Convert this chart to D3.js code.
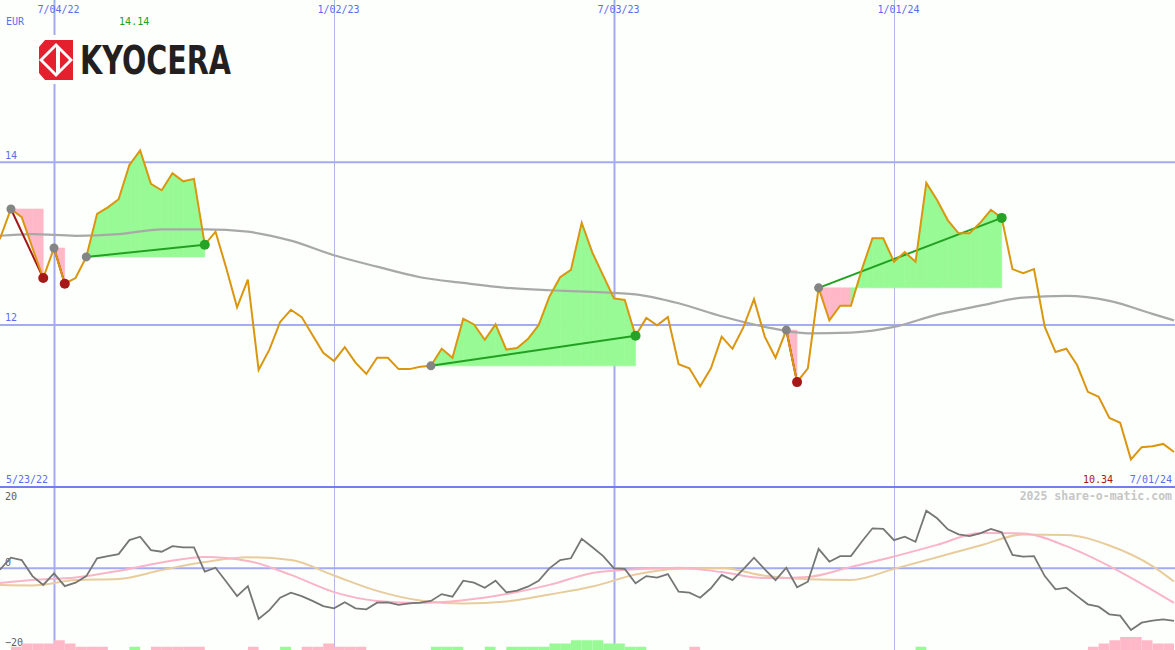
<!DOCTYPE html>
<html><head><meta charset="utf-8">
<script src="https://cdn.jsdelivr.net/npm/d3@7"></script>
<style>body{margin:0;background:#fdfffd}svg{display:block;background:#fdfffd}</style>
</head><body><svg id="c" width="1175" height="650"></svg>
<script>
// ---------- DATA ----------
const startDate = "2022-05-23";           // first weekly close
const endDateLabel = "7/01/24";
const startDateLabel = "5/23/22";
const currency = "EUR";
// weekly closing prices (EUR)
const price = [12.90,13.06,13.42,13.32,12.94,12.57,12.94,12.50,12.57,12.83,
13.36,13.44,13.54,13.96,14.14,13.73,13.65,13.86,13.76,13.79,
12.98,13.14,12.69,12.21,12.55,11.44,11.69,12.03,12.18,12.09,
11.87,11.65,11.55,11.72,11.53,11.39,11.59,11.59,11.45,11.45,
11.48,11.49,11.70,11.59,12.07,12.00,11.81,12.00,11.69,11.71,
11.82,11.99,12.34,12.58,12.67,13.25,12.88,12.60,12.32,12.30,
11.86,12.08,11.99,12.09,11.51,11.46,11.24,11.46,11.85,11.70,
11.96,12.31,11.85,11.59,11.93,11.29,11.46,12.45,12.05,12.23,
12.23,12.67,13.06,13.06,12.77,12.89,12.77,13.74,13.53,13.28,
13.12,13.12,13.25,13.41,13.31,12.68,12.63,12.68,11.97,11.66,
11.70,11.50,11.17,11.11,10.85,10.79,10.34,10.49,10.50,10.53,10.43];
// long moving average (grey), read every 4 weeks
const maWeek = [0,4,8,12,16,20,24,28,32,36,40,44,48,52,56,60,64,68,72,76,80,84,88,92,96,100,104,108,110];
const maValue = [13.08,13.11,13.09,13.11,13.17,13.17,13.14,13.03,12.85,12.71,12.58,12.51,12.45,12.42,12.40,12.37,12.26,12.10,11.97,11.89,11.90,11.97,12.12,12.23,12.33,12.35,12.29,12.13,12.05];
// momentum oscillator (dark grey), weekly
const momentum = [-1.5,-0.4,2.5,1.9,-2.1,-4.3,-1.4,-4.6,-3.75,-2.1,
2.35,2.9,3.4,6.9,7.75,4.4,4.0,5.4,5.1,5.1,
-1.0,0,-3.5,-7.1,-4.6,-12.8,-10.6,-7.5,-6.25,-7.1,
-8.3,-9.6,-10.15,-8.65,-10.15,-10.4,-8.75,-8.65,-9.3,-8.9,
-8.75,-8.3,-6.6,-7.25,-3.25,-3.75,-5.0,-3.25,-6.15,-5.75,
-4.75,-3.3,-0.15,1.9,2.35,7.2,5.1,2.9,-0.15,-0.3,
-3.9,-2.1,-2.5,-1.6,-6.0,-6.25,-7.5,-5.15,-1.8,-3.1,
-0.4,2.5,-0.4,-3.1,0,-4.9,-3.5,4.7,1.5,2.9,
2.9,6.5,9.85,9.7,6.9,7.75,6.5,14.25,12.35,9.6,
8.35,7.9,8.6,9.7,8.85,3.2,2.75,2.9,-2.1,-5.4,
-5.0,-7.1,-9.15,-9.75,-11.65,-12.0,-15.6,-13.75,-13.25,-12.9,-13.3];
// smoothed oscillator lines, read every 4 weeks (same weeks as maWeek)
const oscPink = [-4.1,-3.1,-2.45,-0.8,1.3,2.7,1.7,-1.8,-6.1,-8.3,-8.8,-8.15,-6.6,-4.3,-1.3,-0.4,0,-1.1,-2.6,-2.3,0.2,2.8,5.7,8.7,8.55,5.4,0.4,-5.6,-8.8];
const oscTan = [-4.3,-4.45,-3.1,-2.8,-0.6,1.4,2.6,1.9,-1.95,-5.8,-8.2,-8.95,-8.45,-6.7,-4.7,-1.7,-0.25,-0.1,-2.0,-2.9,-3.1,-0.3,2.6,5.55,8.3,8.2,5.55,0.4,-3.45];
// signal histogram (levels, + green / - pink), weekly
const histogram = [0,0,-1,-2,-2,-2,-3,-2,-1,-1,
-1,0,0,1,0,-1,-1,-1,-1,-1,
0,0,0,0,-1,0,0,1,0,-1,
-1,-2,-1,-1,-1,0,0,0,0,0,
0,1,1,1,0,0,1,0,1,1,
1,1,2,2,3,3,3,2,2,1,
1,0,0,0,0,-1,0,0,0,0,
0,0,0,0,0,0,0,0,0,0,
0,0,0,0,0,0,1,0,0,0,
0,0,0,0,0,0,0,0,0,0,
0,0,-1,-2,-3,-4,-4,-3,-2,-2,0];
// trend segments (start week index, end week index)
const trendStart = [2,6,9,41,74,77];
const trendEnd   = [5,7,20,60,75,94];
// axis ticks
const dateTicks = ["2022-07-04","2023-01-02","2023-07-03","2024-01-01"];
const dateTickLabels = ["7/04/22","1/02/23","7/03/23","1/01/24"];
const dateTickMajor = [true,false,true,false];
const priceTicks = [12,14];
const oscTicks = [20,0,-20];

// ---------- CHART ----------
const W = 1175, H = 650;
const svg = d3.select("#c");
const parse = d3.utcParse("%Y-%m-%d");
const d0 = parse(startDate);
const dates = price.map((_, i) => d3.utcWeek.offset(d0, i));
const x = d3.scaleUtc().domain([parse("2022-07-04"), parse("2024-07-01")]).range([54, 1174]);
const y = d3.scaleLinear().domain([10, 16]).range([487, -0.8]);
const yo = d3.scaleLinear().domain([-20, 20]).range([647.7, 487.7]);
const yh = d3.scaleLinear().domain([0, 4]).range([650, 637]);

const FONT = "'DejaVu Sans Mono', 'Liberation Mono', monospace";
const BLUE_TXT = "#5b6cf2";
const GREEN_FILL = "#98fa94", PINK_FILL = "#ffb8c8";

// vertical grid + top date labels
const gx = svg.append("g").call(
  d3.axisTop(x).tickValues(dateTicks.map(parse))
    .tickFormat((d, i) => dateTickLabels[i]).tickSize(-H).tickPadding(0));
gx.select(".domain").remove();
gx.selectAll(".tick line")
  .attr("stroke", (d, i) => dateTickMajor[i] ? "#a3abf3" : "#b3b9e2")
  .attr("stroke-width", (d, i) => dateTickMajor[i] ? 2 : 1);
gx.selectAll(".tick text").attr("y", 12.5).attr("dy", null).attr("x", 4)
  .attr("fill", BLUE_TXT).style("font", "10px " + FONT);

// horizontal price grid
const gy = svg.append("g").call(
  d3.axisLeft(y).tickValues(priceTicks).tickFormat(d3.format("d")).tickSize(-W).tickPadding(0));
gy.select(".domain").remove();
gy.selectAll(".tick line").attr("stroke", "#a3abf3").attr("stroke-width", 2);
gy.selectAll(".tick text").attr("x", 5).attr("dy", "-0.35em").attr("text-anchor", "start")
  .attr("fill", BLUE_TXT).style("font", "10px " + FONT);

// oscillator grid
const go = svg.append("g").call(
  d3.axisLeft(yo).tickValues(oscTicks).tickFormat(d3.format("d")).tickSize(-W).tickPadding(0));
go.select(".domain").remove();
go.selectAll(".tick line").attr("stroke", d => d === 0 ? "#a3abf3" : "none").attr("stroke-width", 2);
go.selectAll(".tick text").attr("x", 5).attr("text-anchor", "start")
  .attr("dy", d => d === 20 ? "1.2em" : "-0.2em")
  .attr("fill", "#606060").style("font", "10px " + FONT);

// logo (white backing interrupts grid line)
const logo = svg.append("g");
logo.append("rect").attr("x", 36).attr("y", 35).attr("width", 198).attr("height", 49).attr("fill", "#fdfffd");
logo.append("rect").attr("x", 39).attr("y", 40).attr("width", 34).attr("height", 40).attr("fill", "#e4202e");
[[[39,60],[56,43],[73,60],[56,77]], [[39,40],[45,40],[39,47]], [[39,80],[45,80],[39,73]]]
  .forEach(p => logo.append("polygon").attr("points", p.map(q => q.join(",")).join(" ")).attr("fill", "#fdfffd"));
[[[56,47],[56,73],[43,60]], [[60,51],[69,60],[60,69]]]
  .forEach(p => logo.append("polygon").attr("points", p.map(q => q.join(",")).join(" ")).attr("fill", "#e4202e"));
logo.append("text").attr("x", 80).attr("y", 73.5).text("KYOCERA")
  .attr("textLength", 151).attr("lengthAdjust", "spacingAndGlyphs")
  .attr("fill", "#231f20").style("font", "bold 39px 'DejaVu Sans', sans-serif");

// trend fills: week by week, area between start level and price,
// coloured by whether the week closes above or below the start level
trendStart.forEach((s, k) => {
  const e = trendEnd[k];
  const base = y(price[s]);
  const area = d3.area().x(i => x(dates[i])).y0(base).y1(i => y(price[i]));
  const g = svg.append("g");
  d3.range(s, e).forEach(j => {
    const col = price[j + 1] > price[s] ? GREEN_FILL : PINK_FILL;
    g.append("path").attr("d", area([j, j + 1])).attr("fill", col)
      .attr("stroke", col).attr("stroke-width", 0.6);
  });
});

// bottom border of price panel
svg.append("line").attr("x1", 0).attr("x2", W).attr("y1", y(10)).attr("y2", y(10))
  .attr("stroke", "#6f7ff2").attr("stroke-width", 2);

// moving average
svg.append("path").datum(maWeek)
  .attr("d", d3.line().x(i => x(dates[i])).y((i, j) => y(maValue[j])).curve(d3.curveMonotoneX))
  .attr("fill", "none").attr("stroke", "#a8a8a8").attr("stroke-width", 2.2);

// trend lines
trendStart.forEach((s, k) => {
  const e = trendEnd[k];
  svg.append("line").attr("x1", x(dates[s])).attr("y1", y(price[s]))
    .attr("x2", x(dates[e])).attr("y2", y(price[e]))
    .attr("stroke", price[e] >= price[s] ? "#22a022" : "#a31616").attr("stroke-width", 2);
});

// price line
svg.append("path").datum(d3.range(price.length))
  .attr("d", d3.line().x(i => x(dates[i])).y(i => y(price[i])))
  .attr("fill", "none").attr("stroke", "#da960e").attr("stroke-width", 2).attr("stroke-linejoin", "miter");

// markers
trendStart.forEach((s, k) => {
  const e = trendEnd[k];
  svg.append("circle").attr("cx", x(dates[s])).attr("cy", y(price[s])).attr("r", 4.5).attr("fill", "#848484");
  svg.append("circle").attr("cx", x(dates[e])).attr("cy", y(price[e])).attr("r", 5)
    .attr("fill", price[e] >= price[s] ? "#26a226" : "#a81818");
});

// histogram
svg.append("g").selectAll("rect").data(d3.range(histogram.length - 1).filter(i => histogram[i] !== 0))
  .join("rect")
  .attr("x", i => x(dates[i])).attr("width", i => x(dates[i + 1]) - x(dates[i]))
  .attr("y", i => yh(Math.abs(histogram[i]))).attr("height", i => yh(0) - yh(Math.abs(histogram[i])))
  .attr("fill", i => histogram[i] > 0 ? GREEN_FILL : PINK_FILL);

// oscillator lines
svg.append("path").datum(maWeek)
  .attr("d", d3.line().x(i => x(dates[i])).y((i, j) => yo(oscTan[j])).curve(d3.curveMonotoneX))
  .attr("fill", "none").attr("stroke", "#e8cc9c").attr("stroke-width", 2);
svg.append("path").datum(maWeek)
  .attr("d", d3.line().x(i => x(dates[i])).y((i, j) => yo(oscPink[j])).curve(d3.curveMonotoneX))
  .attr("fill", "none").attr("stroke", "#f9b4c8").attr("stroke-width", 2);
svg.append("path").datum(d3.range(momentum.length))
  .attr("d", d3.line().x(i => x(dates[i])).y(i => yo(momentum[i])))
  .attr("fill", "none").attr("stroke", "#767676").attr("stroke-width", 1.8);

// labels
const txt = (t, xx, yy, col, anchor, extra) => svg.append("text").attr("x", xx).attr("y", yy)
  .attr("text-anchor", anchor || "start").attr("fill", col).style("font", (extra || "") + "10px " + FONT).text(t);
txt(currency, 6, 25, BLUE_TXT);
const maxI = d3.maxIndex(price), minI = d3.minIndex(price);
txt(price[maxI].toFixed(2), x(dates[maxI]) - 6, 25, "#22a022", "middle");
txt(startDateLabel, 6, 483, BLUE_TXT);
txt(endDateLabel, 1172, 483, BLUE_TXT, "end");
txt(price[minI].toFixed(2), 1113, 483, "#a31616", "end");
svg.append("text").attr("x", 1172).attr("y", 500).attr("text-anchor", "end").attr("fill", "#c6c6c6")
  .style("font", "bold 11.5px " + FONT).text("2025 share-o-matic.com");
</script></body></html>
